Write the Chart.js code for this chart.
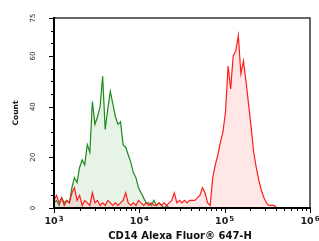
<!DOCTYPE html>
<html>
<head>
<meta charset="utf-8">
<script src="https://cdn.jsdelivr.net/npm/chart.js@4/dist/chart.umd.min.js"></script>
<style>
  html, body { margin: 0; padding: 0; background: #fff; }
  #wrap { width: 319px; height: 241px; }
</style>
</head>
<body>
<div id="wrap"><canvas id="c"></canvas></div>
<script>
// histogram bins: log10 start and width (decades)
const BIN_START = 3;
const BIN_STEP = 0.03;

const greenCounts = [2, 3, 1, 4, 2, 3, 2, 8, 12, 10, 16, 19, 17, 25, 22, 42, 33, 36, 40, 52,
  31, 39, 46, 41, 36, 33, 34, 25, 24, 21, 18, 14, 12, 8, 6, 4, 2, 2, 1, 3,
  1, 2, 1, 0, 1, 0];

const redCounts = [3, 5, 2, 4, 1, 3, 2, 6, 8, 3, 5, 1, 3, 2, 1, 6, 2, 3, 1, 2,
  1, 3, 2, 1, 2, 1, 2, 3, 6, 2, 1, 2, 1, 3, 2, 1, 2, 1, 2, 1,
  1, 2, 1, 2, 1, 2, 3, 6, 2, 3, 2, 3, 2, 3, 3, 3, 4, 5, 8, 6,
  2, 1, 12, 17, 21, 26, 30, 38, 56, 47, 60, 62, 68, 53, 58, 50, 41, 32, 22, 16,
  11, 7, 4, 2, 1, 1, 1, 0];

const yTicks = [0, 20, 40, 60, 75];
const yMinorStep = 5;
const xTicks = [1e3, 1e4, 1e5, 1e6];
const xExps = ["3", "4", "5", "6"];
const xTitle = "CD14 Alexa Fluor\u00AE 647-H";
const yTitle = "Count";

const toPoints = (counts) => counts.map((c, i) => ({ x: Math.pow(10, BIN_START + i * BIN_STEP), y: c }));

const axesPlugin = {
  id: "axes",
  afterDatasetsDraw(chart) {
    const { ctx, chartArea: a, scales: { x, y } } = chart;
    ctx.save();

    // frame top/right
    ctx.strokeStyle = "#333";
    ctx.lineWidth = 1.5;
    ctx.beginPath();
    ctx.moveTo(a.left, a.top);
    ctx.lineTo(a.right, a.top);
    ctx.lineTo(a.right, a.bottom);
    ctx.stroke();

    // y ticks
    ctx.strokeStyle = "#000";
    ctx.lineWidth = 1;
    for (let v = y.min; v <= y.max; v += yMinorStep) {
      const py = Math.round(y.getPixelForValue(v)) + 0.5;
      const len = yTicks.includes(v) ? 5 : 3;
      ctx.beginPath();
      ctx.moveTo(a.left - len, py);
      ctx.lineTo(a.left, py);
      ctx.stroke();
    }
    // x ticks (log minors)
    for (let d = 3; d < 6; d++) {
      for (let m = 1; m <= 9; m++) {
        const px = Math.round(x.getPixelForValue(m * Math.pow(10, d))) + 0.5;
        const len = m === 1 ? 5 : 3;
        ctx.beginPath();
        ctx.moveTo(px, a.bottom);
        ctx.lineTo(px, a.bottom + len);
        ctx.stroke();
      }
    }
    {
      const px = Math.round(x.getPixelForValue(1e6)) + 0.5;
      ctx.beginPath(); ctx.moveTo(px, a.bottom); ctx.lineTo(px, a.bottom + 5); ctx.stroke();
    }

    // left/bottom axis lines
    ctx.lineWidth = 2;
    ctx.beginPath();
    ctx.moveTo(a.left, a.top - 1);
    ctx.lineTo(a.left, a.bottom);
    ctx.lineTo(a.right + 1, a.bottom);
    ctx.stroke();

    // y tick labels (rotated)
    ctx.fillStyle = "#222";
    ctx.font = "7px 'DejaVu Sans'";
    ctx.textAlign = "center";
    ctx.textBaseline = "middle";
    yTicks.forEach(v => {
      const py = y.getPixelForValue(v);
      ctx.save();
      ctx.translate(a.left - 21, py);
      ctx.rotate(-Math.PI / 2);
      ctx.fillText(String(v), 0, 0);
      ctx.restore();
    });

    // x tick labels 10^n
    ctx.textAlign = "left";
    ctx.textBaseline = "alphabetic";
    xTicks.forEach((v, i) => {
      const px = x.getPixelForValue(v);
      ctx.font = "bold 9.5px 'DejaVu Sans'";
      const w1 = ctx.measureText("10").width;
      ctx.font = "bold 7px 'DejaVu Sans'";
      const w2 = ctx.measureText(xExps[i]).width;
      const x0 = px - (w1 + w2 + 1) / 2;
      ctx.font = "bold 9.5px 'DejaVu Sans'";
      ctx.fillText("10", x0, 224);
      ctx.font = "bold 7px 'DejaVu Sans'";
      ctx.fillText(xExps[i], x0 + w1 + 1, 221);
    });

    // titles
    ctx.fillStyle = "#111";
    ctx.font = "bold 10px 'DejaVu Sans'";
    ctx.textAlign = "center";
    ctx.textBaseline = "middle";
    ctx.fillText(xTitle, (a.left + a.right) / 2 - 2, 236);
    ctx.font = "bold 7.5px 'DejaVu Sans'";
    ctx.save();
    ctx.translate(16, (a.top + a.bottom) / 2);
    ctx.rotate(-Math.PI / 2);
    ctx.fillText(yTitle, 0, 0);
    ctx.restore();

    ctx.restore();
  }
};

new Chart(document.getElementById("c"), {
  type: "line",
  data: {
    datasets: [
      {
        label: "stained",
        data: toPoints(redCounts),
        borderColor: "#ff1c1c",
        backgroundColor: "rgba(255, 120, 120, 0.18)",
        borderWidth: 1.2,
        fill: "origin",
        pointRadius: 0,
        tension: 0
      },
      {
        label: "isotype",
        data: toPoints(greenCounts),
        borderColor: "#1e8a1e",
        backgroundColor: "rgba(120, 190, 120, 0.18)",
        borderWidth: 1.2,
        fill: "origin",
        pointRadius: 0,
        tension: 0
      }
    ]
  },
  options: {
    responsive: true,
    maintainAspectRatio: false,
    animation: false,
    layout: { padding: { left: 54, top: 18, right: 9, bottom: 33 } },
    plugins: { legend: { display: false }, tooltip: { enabled: false } },
    scales: {
      x: { type: "logarithmic", min: 1e3, max: 1e6, display: false },
      y: { type: "linear", min: 0, max: 75, display: false }
    }
  },
  plugins: [axesPlugin]
});
</script>
</body>
</html>
